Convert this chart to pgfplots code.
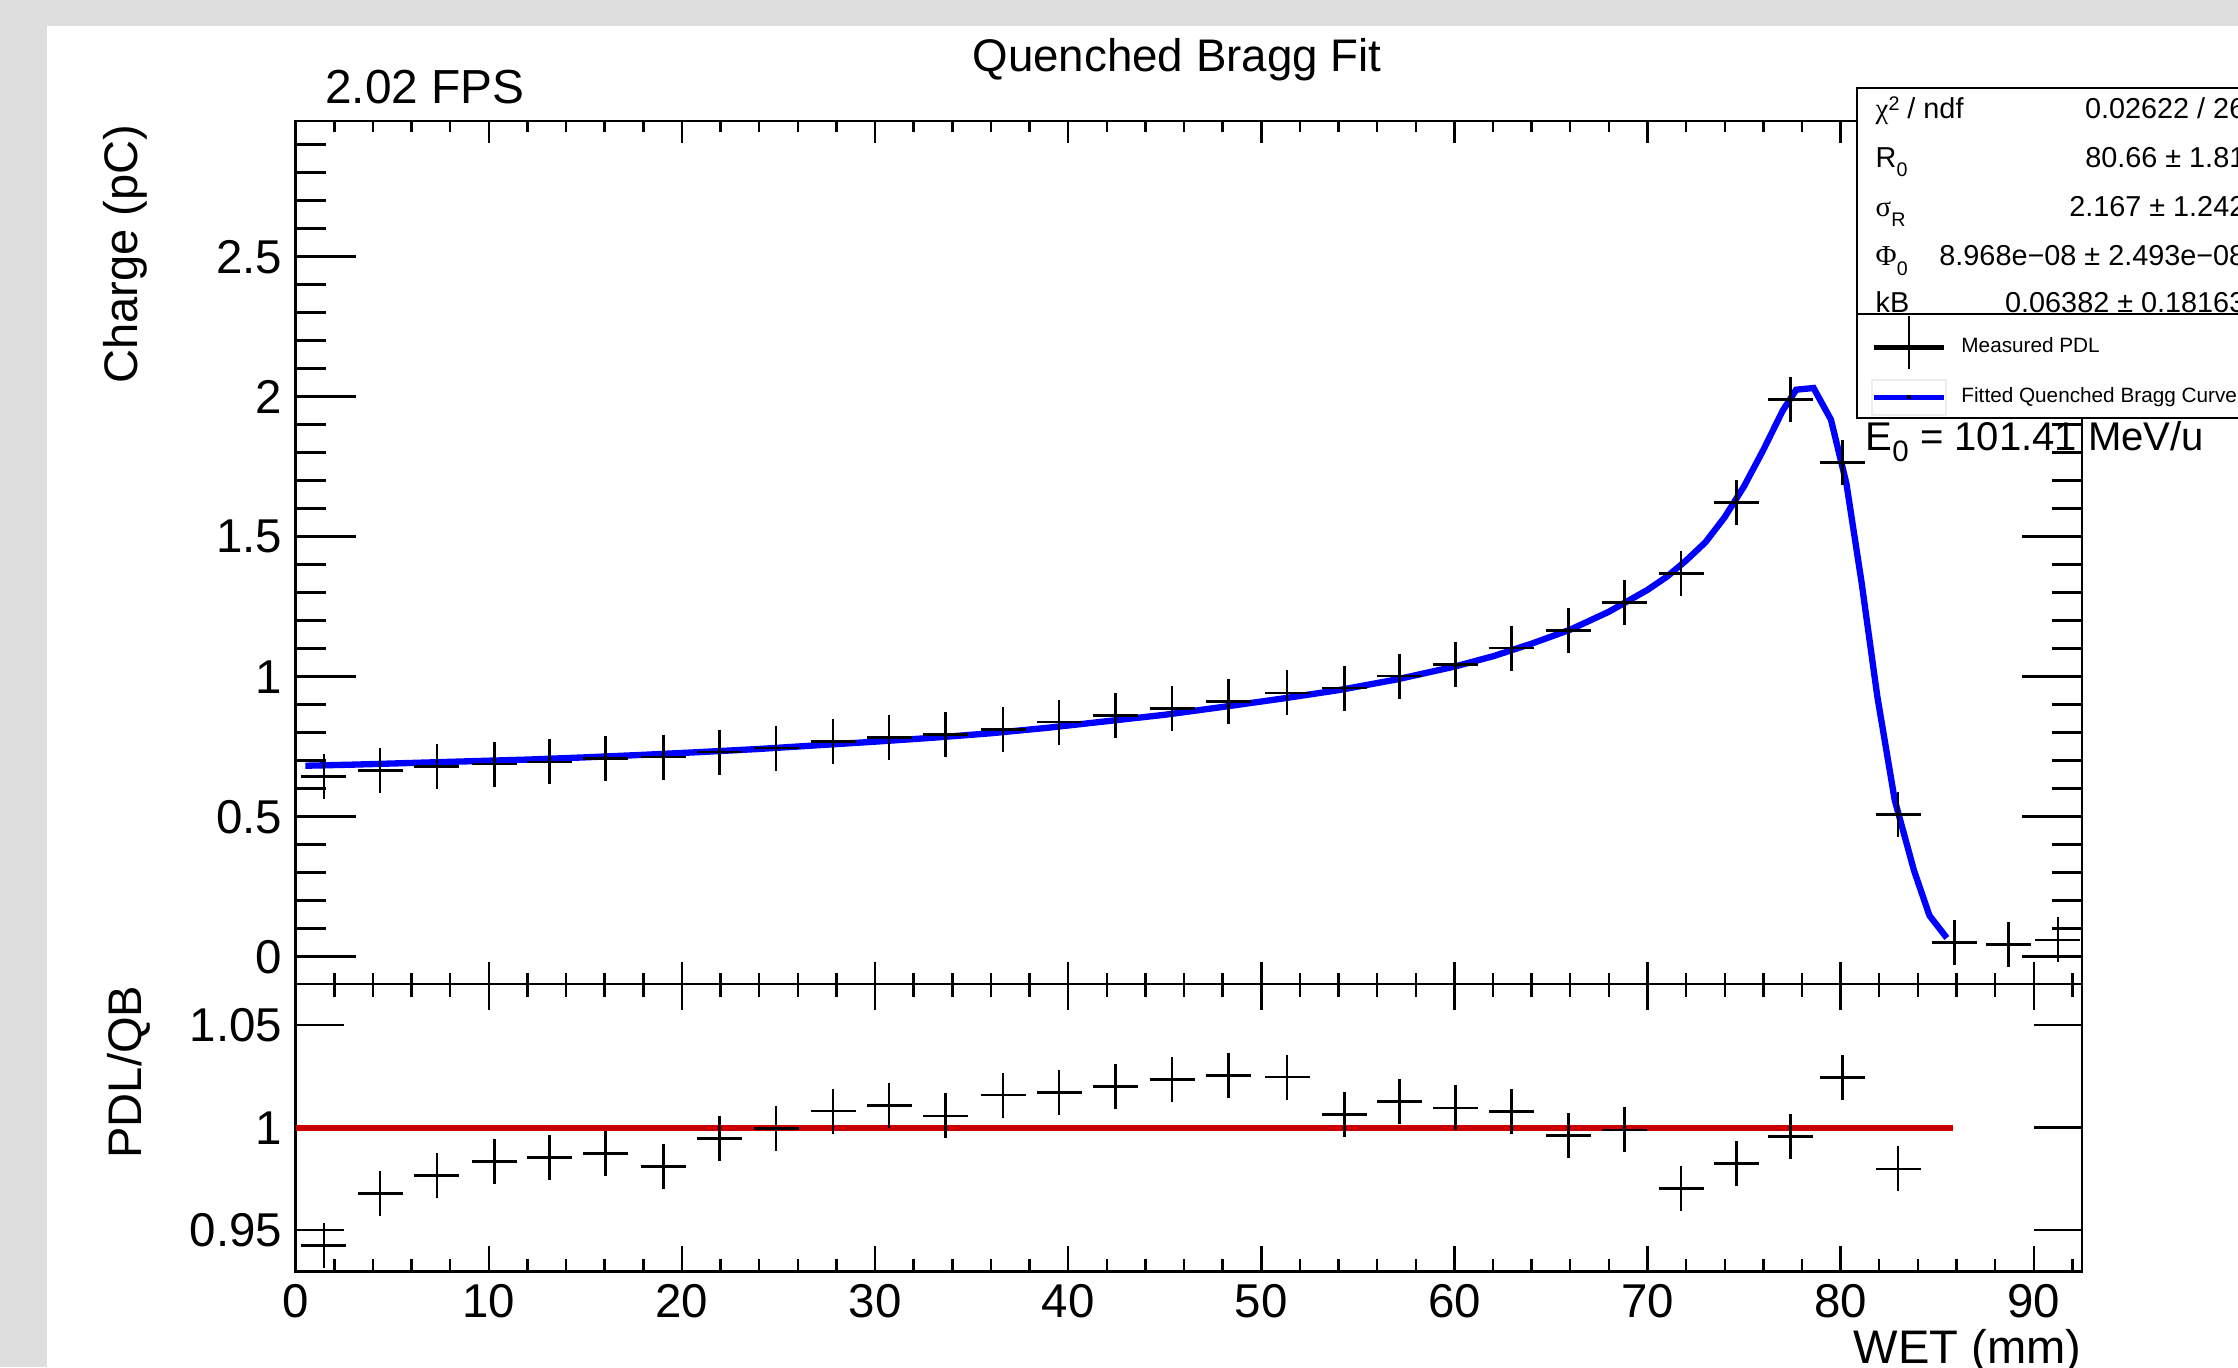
\documentclass[border=0pt]{standalone}
\usepackage{pgfplots}
\pgfplotsset{compat=1.18}
\usepackage{fontspec}
\setmainfont{Liberation Sans}
\newfontfamily\greekfont{Liberation Serif}
\newcommand\fs[1]{\fontsize{#1}{#1}\selectfont}
\definecolor{rootred}{RGB}{204,0,0}
\definecolor{canvasgray}{RGB}{222,222,222}
\pgfplotsset{
  rootaxis/.style={
    scale only axis, width=17.863cm,
    xmin=0, xmax=92.5,
    axis line style={line width=0.75pt},
    tick align=inside,
    tick style={line width=0.7pt, black},
    /pgf/number format/assume math mode=true,
    yticklabel style={font=\fs{13.5pt}, inner sep=0pt, xshift=-0.127cm},
    xticklabel style={font=\fs{13.5pt}, inner sep=0pt, yshift=-0.116cm},
  },
  datamark/.style={only marks, mark=+, mark size=6.4pt, mark options={line width=0.75pt, black}},
}
\begin{document}
\begin{tikzpicture}
\useasboundingbox (0,0) rectangle (22.38,13.67);
\clip (0,0) rectangle (22.38,13.67);
\fill[canvasgray] (0,0) rectangle (22.38,13.67);
\fill[white] (0.47,0) rectangle (22.38,13.41);

% ---------- upper panel ----------
\begin{axis}[rootaxis, at={(2.957cm,3.83cm)}, anchor=south west, height=8.63cm,
  ymin=-0.0975, ymax=2.9846,
  xtick=\empty,
  ytick={0,0.5,1,1.5,2,2.5}, yticklabels={0,0.5,1,1.5,2,2.5},
  minor ytick={0,0.1,...,2.95},
  major tick length=0.6cm, minor tick length=0.3cm]
\addplot[datamark] coordinates {
(1.46,0.643) (4.37,0.665) (7.31,0.679) (10.28,0.688) (13.14,0.696) (16.05,0.707)
(19.03,0.713) (21.93,0.731) (24.88,0.745) (27.83,0.768) (30.73,0.782) (33.65,0.793)
(36.63,0.812) (39.53,0.838) (42.45,0.862) (45.38,0.886) (48.29,0.912) (51.34,0.942)
(54.32,0.959) (57.17,1.002) (60.05,1.044) (62.97,1.102) (65.9,1.164) (68.8,1.265)
(71.74,1.368) (74.61,1.622) (77.4,1.991) (80.1,1.765) (82.98,0.509) (85.9,0.050)
(88.7,0.044) (91.25,0.060)};
\addplot[blue, line width=1.8pt] coordinates {
(0.5,0.682) (3,0.686) (6,0.692) (9,0.698) (12,0.704) (15,0.712) (18,0.721) (21,0.731)
(24,0.742) (27,0.755) (30,0.768) (33,0.782) (36,0.798) (39,0.818) (42,0.841) (45,0.864)
(48,0.892) (51,0.921) (54,0.952) (57,0.990) (60,1.036) (62,1.073) (64,1.118) (66,1.168)
(68,1.232) (70,1.310) (71,1.357) (72,1.415) (73,1.48) (74,1.57) (75,1.68) (76,1.81)
(77,1.95) (77.7,2.025) (78.6,2.031) (79.5,1.918) (80.3,1.69) (81.1,1.33) (81.9,0.93)
(82.8,0.56) (83.8,0.308) (84.6,0.147) (85.5,0.067)};
\end{axis}
\begin{axis}[rootaxis, at={(2.957cm,3.83cm)}, anchor=south west, height=8.63cm,
  ymin=-0.0975, ymax=2.9846, axis line style={draw=none},
  ytick=\empty, xtick={0,10,...,90}, xticklabels={}, minor xtick={0,2,...,92},
  major tick length=0.22cm, minor tick length=0.11cm]
\end{axis}

% ---------- lower panel ----------
\begin{axis}[rootaxis, at={(2.957cm,0.953cm)}, anchor=south west, height=2.877cm,
  ymin=0.92976, ymax=1.0701,
  xtick=\empty, ytick={0.95,1,1.05}, yticklabels={0.95,1,1.05},
  major tick length=0.48cm]
\addplot[datamark] coordinates {
(1.46,0.9425) (4.37,0.968) (7.31,0.9766) (10.28,0.9836) (13.14,0.9854) (16.05,0.9873)
(19.03,0.981) (21.93,0.9948) (24.88,0.9997) (27.83,1.0081) (30.73,1.0109) (33.65,1.0058)
(36.63,1.0159) (39.53,1.0172) (42.45,1.0201) (45.38,1.0234) (48.29,1.0256) (51.34,1.0247)
(54.32,1.0063) (57.17,1.0128) (60.05,1.0097) (62.97,1.008) (65.9,0.9963) (68.8,0.9989)
(71.74,0.9705) (74.61,0.9825) (77.4,0.9956) (80.1,1.0245) (82.98,0.9799)};
\addplot[rootred, line width=1.6pt] coordinates {(0,1) (85.8,1)};
\end{axis}
\begin{axis}[rootaxis, at={(2.957cm,0.953cm)}, anchor=south west, height=2.877cm,
  ymin=0.92976, ymax=1.0701, axis line style={draw=none},
  ytick=\empty, xtick={0,10,...,90}, xticklabels={0,10,20,30,40,50,60,70,80,90},
  minor xtick={0,2,...,92},
  major tick length=0.26cm, minor tick length=0.13cm]
\end{axis}

% ---------- stats box ----------
\draw[line width=0.57pt, fill=white] (18.567,12.787) rectangle (23,9.487);
\draw[line width=0.57pt] (18.567,10.527) -- (23,10.527);
\begin{scope}[every node/.style={inner sep=0pt, font=\fs{8.2pt}}]
\node[anchor=base west] at (18.75,12.487) {{\greekfont χ}\raisebox{2.2pt}{\fs{5.6pt}2} / ndf};
\node[anchor=base west] at (18.75,11.995) {R\raisebox{-2.7pt}{\fs{5.6pt}0}};
\node[anchor=base west] at (18.75,11.503) {{\greekfont σ}\raisebox{-2.7pt}{\fs{5.6pt}R}};
\node[anchor=base west] at (18.75,11.011) {{\greekfont Φ}\raisebox{-2.7pt}{\fs{5.6pt}0}};
\node[anchor=base west] at (18.75,10.55) {kB};
\node[anchor=base east] at (22.46,12.487) {0.02622 / 26};
\node[anchor=base east] at (22.46,11.995) {80.66 ± 1.81};
\node[anchor=base east] at (22.46,11.503) {2.167 ± 1.242};
\node[anchor=base east] at (22.46,11.011) {8.968e−08 ± 2.493e−08};
\node[anchor=base east] at (22.46,10.55) {0.06382 ± 0.18163};
\end{scope}

% ---------- legend ----------
\begin{axis}[scale only axis, width=17.863cm, height=8.63cm, at={(2.957cm,3.83cm)}, anchor=south west,
  xmin=0, xmax=1, ymin=0, ymax=1, hide axis,
  legend cell align=left,
  legend style={at={(0.88171,0.77520)}, anchor=north west, draw=none, fill=none,
    inner sep=0pt, outer sep=0pt, row sep=0.084cm, column sep=0.14cm,
    font=\fs{5.9pt}, nodes={inner sep=0pt, outer sep=0pt}}]
\addlegendimage{legend image code/.code={
  \draw[black, line width=1.5pt] (0cm,0cm) -- (0.706cm,0cm);
  \draw[black, line width=0.6pt] (0.353cm,-0.216cm) -- (0.353cm,0.317cm);}}
\addlegendentry{Measured PDL}
\addlegendimage{legend image code/.code={
  \draw[black!7, line width=0.6pt] (-0.02cm,-0.177cm) rectangle (0.726cm,0.173cm);
  \draw[blue, line width=1.5pt] (0cm,0cm) -- (0.706cm,0cm);
  \fill[black] (0.343cm,-0.01cm) rectangle (0.363cm,0.01cm);}}
\addlegendentry{Fitted Quenched Bragg Curve}
\end{axis}

% ---------- texts ----------
\node[anchor=base west, inner sep=0pt, font=\fs{11.4pt}] at (18.65,9.163)
  {E\raisebox{-3pt}{\fs{8.4pt}0} = 101.41 MeV/u};
\node[anchor=base, inner sep=0pt, font=\fs{13pt}] at (11.77,12.953) {Quenched Bragg Fit};
\node[anchor=base west, inner sep=0pt, font=\fs{13.6pt}] at (3.246,12.63) {2.02 FPS};
\node[rotate=90, anchor=north east, inner sep=0pt, font=\fs{13.4pt}] at (1.03,12.43) {Charge (pC)};
\node[rotate=90, anchor=north east, inner sep=0pt, font=\fs{13.4pt}] at (1.067,3.82) {PDL/QB};
\node[anchor=base east, inner sep=0pt, font=\fs{13.4pt}] at (20.82,0.04) {WET (mm)};
\end{tikzpicture}
\end{document}
